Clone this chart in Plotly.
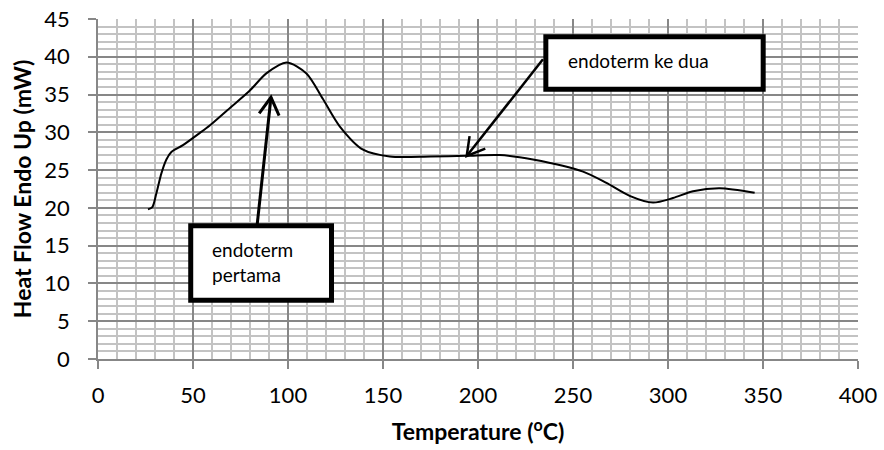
import math
import plotly.graph_objects as go

# ---------------- data ----------------
temperature = [26.3, 28.6, 30.7, 33.4, 36.0, 38.6, 44.7, 53.5, 58.8, 69.3, 79.8, 88.6,
               99.2, 109.7, 118.4, 127.2, 139.5, 153.5, 175.0, 194.0, 211.4,
               228.9, 255.3, 267.6, 279.8, 292.1, 302.6, 313.2, 327.2, 345.6]
heat_flow = [19.8, 20.1, 21.9, 24.6, 26.4, 27.4, 28.3, 29.9, 30.9, 33.2, 35.5, 37.8,
             39.25, 37.8, 34.4, 30.8, 27.7, 26.8, 26.8, 26.9, 27.0,
             26.4, 24.8, 23.3, 21.6, 20.7, 21.3, 22.2, 22.6, 22.0]

x_ticks = [0, 50, 100, 150, 200, 250, 300, 350, 400]
y_ticks = [0, 5, 10, 15, 20, 25, 30, 35, 40, 45]

label_first = "endoterm<br>pertama"
label_second = "endoterm ke dua"

x_title = "Temperature (<sup>o</sup>C)"
y_title = "Heat Flow Endo Up (mW)"

# ---------------- layout constants ----------------
W, H = 884, 450
ML, MR, MT, MB = 98, 26, 19, 91
X_RANGE = (0, 400)
Y_RANGE = (0, 45)
PX_X = (W - ML - MR) / (X_RANGE[1] - X_RANGE[0])
PX_Y = (H - MT - MB) / (Y_RANGE[1] - Y_RANGE[0])

FONT = "Lato"
MAJOR = "#878787"
MINOR = "#c3c3c3"

fig = go.Figure()
fig.add_trace(go.Scatter(
    x=temperature, y=heat_flow, mode="lines",
    line=dict(color="black", width=2, shape="spline", smoothing=0.8),
    hoverinfo="skip", showlegend=False,
))


def arrow_shapes(tail, tip, width):
    """Shaft + open V head, head size defined in pixels."""
    shapes = [dict(type="line", xref="x", yref="y", x0=tail[0], y0=tail[1],
                   x1=tip[0], y1=tip[1], line=dict(color="black", width=width))]
    dx = (tail[0] - tip[0]) * PX_X
    dy = -(tail[1] - tip[1]) * PX_Y
    ang = math.atan2(dy, dx)
    pts = []
    for s in (-1, 1):
        a = ang + s * math.radians(30)
        px, py = 20 * math.cos(a), 20 * math.sin(a)
        pts.append((tip[0] + px / PX_X, tip[1] - py / PX_Y))
    path = (f"M {pts[0][0]},{pts[0][1]} L {tip[0]},{tip[1]} "
            f"L {pts[1][0]},{pts[1][1]}")
    shapes.append(dict(type="path", xref="x", yref="y", path=path,
                       line=dict(color="black", width=width)))
    return shapes


shapes = []
shapes += arrow_shapes((83.7, 17.6), (91.05, 34.64), 3)
shapes += arrow_shapes((234.2, 39.66), (194.05, 26.87), 2.5)
shapes.append(dict(type="rect", xref="x", yref="y", x0=48.8, x1=122.9, y0=7.78, y1=17.63,
                   line=dict(color="black", width=5), fillcolor="white"))
shapes.append(dict(type="rect", xref="x", yref="y", x0=235.7, x1=350.1, y0=35.71, y1=42.64,
                   line=dict(color="black", width=5), fillcolor="white"))

annotations = [
    dict(x=58.9, y=12.84, xref="x", yref="y", text=label_first, showarrow=False,
         xanchor="left", yanchor="middle", align="left",
         font=dict(family=FONT, size=19, color="black")),
    dict(x=246.2, y=39.57, xref="x", yref="y", text=label_second, showarrow=False,
         xanchor="left", yanchor="middle", align="left",
         font=dict(family=FONT, size=19, color="black")),
]

fig.update_layout(
    width=W, height=H, autosize=False,
    margin=dict(l=ML, r=MR, t=MT, b=MB, autoexpand=False),
    paper_bgcolor="white", plot_bgcolor="white",
    font=dict(family=FONT, color="black"),
    shapes=shapes, annotations=annotations,
    showlegend=False,
)
fig.update_xaxes(
    range=list(X_RANGE), tickvals=x_ticks, ticktext=[str(v) for v in x_ticks],
    automargin=False, ticklabeloverflow="allow",
    showgrid=True, gridcolor=MAJOR, gridwidth=1.5,
    minor=dict(dtick=10, showgrid=True, gridcolor=MINOR, gridwidth=1.5, ticks=""),
    showline=True, linecolor=MAJOR, linewidth=1.5, zeroline=False,
    ticks="outside", ticklen=8, tickcolor=MAJOR, tickwidth=1.5,
    tickfont=dict(family=FONT, size=22, color="black"), ticklabelstandoff=8,
    title=dict(text=x_title, standoff=17,
               font=dict(family=FONT, size=23, color="black", weight="bold")),
)
fig.update_yaxes(
    range=list(Y_RANGE), tickvals=y_ticks, ticktext=[str(v) for v in y_ticks],
    automargin=False, ticklabeloverflow="allow",
    showgrid=True, gridcolor=MAJOR, gridwidth=1.5,
    minor=dict(dtick=1, showgrid=True, gridcolor=MINOR, gridwidth=1.5, ticks=""),
    showline=True, linecolor=MAJOR, linewidth=1.5, zeroline=False,
    ticks="outside", ticklen=8, tickcolor=MAJOR, tickwidth=1.5,
    tickfont=dict(family=FONT, size=22, color="black"), ticklabelstandoff=14,
    title=dict(text=y_title, standoff=6,
               font=dict(family=FONT, size=23, color="black", weight="bold")),
)

fig.write_html("out.html", config={"displayModeBar": False},
               post_script="document.body.style.margin='0';")
